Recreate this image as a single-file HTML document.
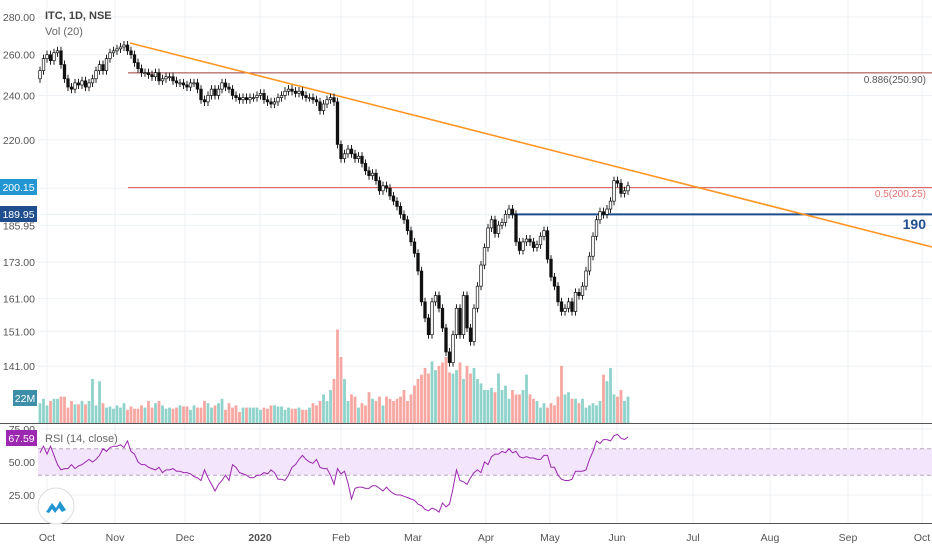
<!DOCTYPE html>
<html><head><meta charset="utf-8"><style>
html,body{margin:0;padding:0;background:#fff;}
svg{display:block;font-family:"Liberation Sans",sans-serif;}
</style></head><body>
<svg id="chart" width="932" height="550" viewBox="0 0 932 550" xmlns="http://www.w3.org/2000/svg">
<g id="grid"></g>
<g id="vol"></g>
<g id="lines"></g>
<g id="candles"></g>
<g id="rsi"></g>
<g id="axes"></g>
</svg>
<script>
const NS="http://www.w3.org/2000/svg";
// ---- data ----
const closes=[252,258,260,257,261,262,255,248,244,243,246,245,247,244,246,248,252,255,252,258,261,
262,263,264,265,262,260,256,253,251,251,250,249,251,247,248,249,249,247,246,246,245,
244,246,246,243,238,237,240,243,240,243,246,244,243,240,239,238,239,238,239,239,240,
241,238,237,236,237,239,240,242,243,242,241,242,240,239,239,238,237,233,236,238,239,237,
218,212,214,216,214,212,213,210,207,205,206,203,199,201,200,197,195,193,190,188,
184,180,176,170,160,155,150,160,162,158,152,145,142,150,158,150,162,152,148,158,165,
172,178,185,188,183,186,187,190,192,190,180,177,180,181,180,178,179,182,184,
174,168,165,160,157,158,160,157,163,162,165,170,175,182,188,191,190,192,195,203,
202,198,199,201];
const volumes=[18,22,16,20,22,22,24,24,14,20,17,17,20,17,20,40,16,38,18,14,15,
13,16,14,18,12,15,13,13,16,14,20,14,18,20,16,13,14,13,14,16,15,
15,12,16,14,14,20,18,14,16,18,22,12,18,14,16,10,14,14,14,14,14,
12,14,13,16,16,15,15,12,14,13,13,14,12,12,14,18,16,20,26,20,30,40,
85,60,40,20,26,24,14,18,16,28,22,20,24,16,24,22,20,22,24,30,
20,26,34,40,44,50,45,56,48,52,55,60,46,45,48,55,40,52,45,50,40,
36,30,30,32,28,45,30,34,22,30,26,26,30,44,26,22,20,14,18,
14,18,16,24,52,26,28,22,22,18,22,14,16,18,16,20,44,38,50,26,
24,30,20,24];
const rsiValues=[57,62,56,62,55,48,44,45,45,48,45,47,48,50,52,50,52,55,60,58,61,
62,62,63,61,66,58,56,50,48,48,46,45,44,46,42,44,44,45,43,43,42,
42,41,39,38,36,44,38,33,28,33,36,40,36,48,46,42,41,40,38,38,40,
40,42,41,44,42,37,37,36,40,46,48,52,55,52,50,49,52,46,45,45,40,33,
45,41,43,34,22,30,31,31,30,30,32,32,30,28,31,28,26,25,25,24,
23,22,21,18,17,14,13,15,14,12,19,16,18,30,44,36,35,33,38,42,44,
42,50,48,54,56,56,58,57,60,57,58,54,53,54,53,53,52,52,55,
55,46,46,40,37,36,36,37,43,43,43,44,52,58,66,64,67,67,66,70,
71,68,67,69];
const priceTicks=[280,260,240,220,185.95,173,161,151,141];
const rsiTicks=[75,50,25];
const monthLabels=["Oct","Nov","Dec","2020","Feb","Mar","Apr","May","Jun","Jul","Aug","Sep","Oct"];
const monthX=[47,115,185,260,341,413,486,550,617,693,770,848,922];
// ---- scales ----
const X0=40,X1=628;
function xs(i){return X0+i*(X1-X0)/(closes.length-1);}
function ys(p){return 17+(Math.log(280)-Math.log(p))*509;}
function yv(v){return 423-v*1.1;}
function yr(v){return 462-(v-50)*1.32;}
function el(tag,attrs,parent,txt){const e=document.createElementNS(NS,tag);for(const k in attrs)e.setAttribute(k,attrs[k]);if(txt!==undefined)e.textContent=txt;parent.appendChild(e);return e;}
const G=id=>document.getElementById(id);
// grid
const grid=G('grid');
monthX.forEach(x=>{el('line',{x1:x,y1:0,x2:x,y2:523,stroke:'#edf2f6','stroke-width':1},grid);});
priceTicks.concat([200,190]).forEach(p=>{el('line',{x1:38,y1:ys(p),x2:932,y2:ys(p),stroke:'#edf2f6'},grid);});
rsiTicks.forEach(v=>{el('line',{x1:38,y1:yr(v),x2:932,y2:yr(v),stroke:'#edf2f6'},grid);});
// volume
const vol=G('vol');
volumes.forEach((v,i)=>{
 const up=i===0?true:closes[i]>=closes[i-1];
 const r=el('rect',{x:xs(i)-1.4,y:yv(v),width:2.8,height:423-yv(v),fill:up?'#8fd3cb':'#f7a7a2'},vol);
 
 
});
// drawing lines
const L=G('lines');
el('line',{x1:128,y1:ys(250.9),x2:932,y2:ys(250.9),stroke:'#9b3b3b','stroke-width':1,},L);
el('line',{x1:128,y1:ys(200.25),x2:932,y2:ys(200.25),stroke:'#d9534f','stroke-width':1,},L);
el('line',{x1:510,y1:ys(190),x2:932,y2:ys(190),stroke:'#1f4e8f','stroke-width':2,},L);
el('line',{x1:130,y1:43,x2:932,y2:247,stroke:'#ff9524','stroke-width':1.6,},L);
el('text',{x:926,y:83,'text-anchor':'end','font-size':10,fill:'#555',},L,'0.886(250.90)');
el('text',{x:926,y:197,'text-anchor':'end','font-size':10,fill:'#e57373',},L,'0.5(200.25)');
el('text',{x:926,y:229,'text-anchor':'end','font-size':14,'font-weight':'bold',fill:'#1f4e8f',},L,'190');
// candles
const C=G('candles');
closes.forEach((c,i)=>{
 const o=i===0?248:closes[i-1];
 const hi=Math.max(o,c)*1.008, lo=Math.min(o,c)*0.992;
 const x=xs(i);
 const g=el('g',{},C);
 
 
 el('line',{x1:x,y1:ys(hi),x2:x,y2:ys(lo),stroke:'#222','stroke-width':1},g);
 const top=ys(Math.max(o,c)),bot=ys(Math.min(o,c));
 el('rect',{x:x-1.3,y:top,width:2.6,height:Math.max(1,bot-top),fill:c>=o?'#fff':'#111',stroke:'#111','stroke-width':0.7},g);
});
// rsi
const R=G('rsi');
el('rect',{x:38,y:yr(60),width:894,height:yr(40)-yr(60),fill:'#f3e5fc'},R);
[60,40].forEach(v=>el('line',{x1:38,y1:yr(v),x2:932,y2:yr(v),stroke:'#b8a6c0','stroke-dasharray':'4,3'},R));
const pts=rsiValues.map((v,i)=>xs(i).toFixed(1)+','+yr(v).toFixed(1)).join(' ');
el('polyline',{points:pts,fill:'none',stroke:'#9c27b0','stroke-width':1,},R);
// axes / separators
const A=G('axes');
el('line',{x1:0,y1:423.5,x2:932,y2:423.5,stroke:'#555','stroke-width':1},A);
el('line',{x1:0,y1:523.5,x2:932,y2:523.5,stroke:'#555','stroke-width':1},A);
priceTicks.forEach(p=>{const t=el('text',{x:35,y:ys(p)+4,'text-anchor':'end','font-size':10.5,fill:'#555'},A,p.toFixed(2));});
el('text',{x:35,y:402,'text-anchor':'end','font-size':10.5,fill:'#555'},A,'1');
rsiTicks.forEach(v=>{const t=el('text',{x:35,y:yr(v)+4,'text-anchor':'end','font-size':10.5,fill:'#555'},A,v.toFixed(2));});
monthLabels.forEach((m,i)=>{const t=el('text',{x:monthX[i],y:541,'text-anchor':'middle','font-size':10.5,fill:'#555','font-weight':m==='2020'?'bold':'normal'},A,m);});
function badge(x,y,w,h,bg,txt,name){const g=el('g',{},A);el('rect',{x:x,y:y,width:w,height:h,fill:bg},g);el('text',{x:x+w/2,y:y+h-4,'text-anchor':'middle','font-size':10.5,fill:'#fff'},g,txt);}
badge(0,179,37,16,'#2196d3','200.15','last-price-badge');
badge(0,206,37,16,'#1f4e8f','189.95','support-price-badge');
badge(13,390,24,16,'#3d8ea8','22M','volume-badge');
badge(6,430,31,16,'#9c27b0','67.59','rsi-value-badge');
el('text',{x:45,y:19,'font-size':11,'font-weight':'bold',fill:'#444',},A,'ITC, 1D, NSE');
el('text',{x:45,y:35,'font-size':11,fill:'#666',},A,'Vol (20)');
el('text',{x:45,y:442,'font-size':11,fill:'#666',},A,'RSI (14, close)');
const lg=el('g',{},A);


el('circle',{cx:56,cy:506,r:18,fill:'#fff',stroke:'#ddd'},lg);
el('path',{d:'M46 512 L52 503 L56 508 L60 501 L66 510 L62 512 L59 508 L55 513 L52 509 L49 513 Z',fill:'#2196d3'},lg);
</script>
</body></html>
